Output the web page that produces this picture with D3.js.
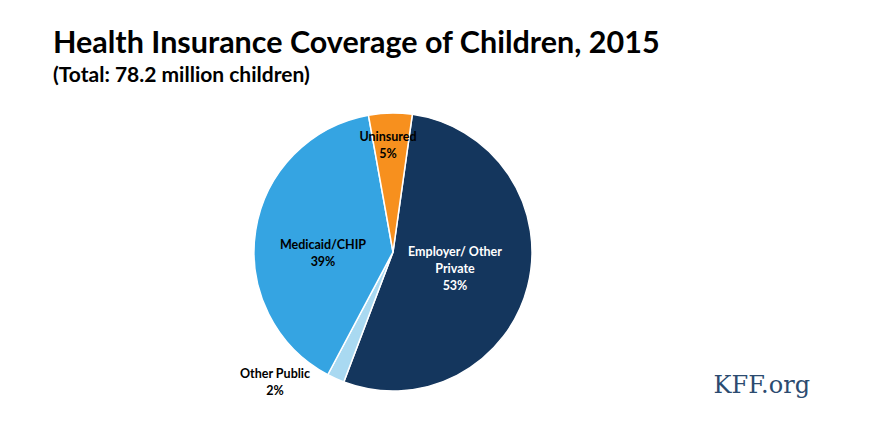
<!DOCTYPE html><html><head><meta charset="utf-8">
<script src="https://cdn.jsdelivr.net/npm/d3@7"></script>
<style>body{margin:0;background:#fff}</style></head><body>
<svg id="c" width="877" height="438"></svg>
<script>
const categories=["Employer/ Other Private","Other Public","Medicaid/CHIP","Uninsured"];
const values=[53,2,39,5];
const colors=["#14365d","#a9d9f1","#35a4e2","#f7901e"];
const labelLines=[["Employer/ Other","Private","53%"],["Other Public","2%"],["Medicaid/CHIP","39%"],["Uninsured","5%"]];
const labelPos=[[455,256],[275,378],[323,249],[388,141]];
const svg=d3.select("#c");
const F="Lato, 'Open Sans', sans-serif";
svg.append("text").attr("x",53).attr("y",53).attr("font-family",F).attr("font-weight","bold").attr("font-size",30.5).attr("fill","#000").text("Health Insurance Coverage of Children, 2015");
svg.append("text").attr("x",53).attr("y",82).attr("font-family",F).attr("font-weight","bold").attr("font-size",21).attr("fill","#000").text("(Total: 78.2 million children)");
const off=8*Math.PI/180;
const pie=d3.pie().sort(null).value(d=>d).startAngle(off).endAngle(off+2*Math.PI);
const arc=d3.arc().innerRadius(0).outerRadius(139);
const g=svg.append("g").attr("transform","translate(393,252)");
g.selectAll("path").data(pie(values)).join("path").attr("d",arc).attr("fill",(d,i)=>colors[i]).attr("stroke","#fff").attr("stroke-width",1.5);
labelLines.forEach((ls,i)=>{
  const t=svg.append("text").attr("font-family",F).attr("font-weight","bold").attr("font-size",12.5).attr("text-anchor","middle").attr("fill",i===0?"#fff":"#000");
  ls.forEach((l,j)=>t.append("tspan").attr("x",labelPos[i][0]).attr("y",labelPos[i][1]+j*17).text(l));
});
svg.append("text").attr("x",810).attr("y",393).attr("text-anchor","end").attr("font-family","'DejaVu Serif', 'Liberation Serif', serif").attr("font-size",24).attr("fill","#2c4b70").text("KFF.org");
</script></body></html>
